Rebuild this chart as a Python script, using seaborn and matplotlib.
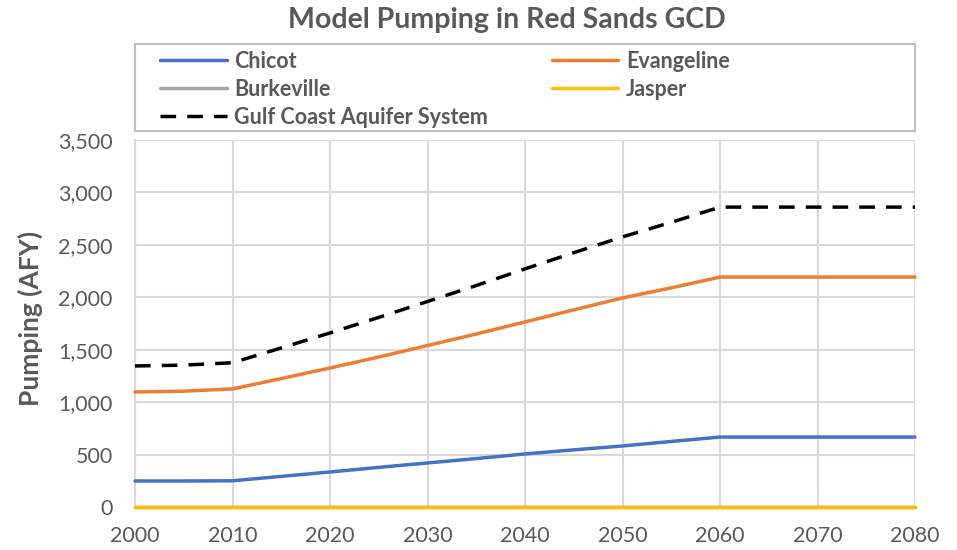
import pandas as pd
import numpy as np
import matplotlib.pyplot as plt
import seaborn as sns
from matplotlib.patches import Rectangle

# values (AFY)
years = [2000, 2005, 2010, 2015, 2020, 2025, 2030, 2035, 2040, 2045, 2050, 2055, 2060, 2070, 2080]
chicot = [248, 248, 250, 292, 334, 378, 420, 462, 506, 545, 582, 625, 667, 667, 667]
evangeline = [1097, 1105, 1126, 1225, 1326, 1430, 1540, 1650, 1765, 1880, 1994, 2090, 2193, 2193, 2193]
burkeville = [0] * len(years)
jasper = [0] * len(years)
gulf_coast = [1345, 1353, 1376, 1517, 1660, 1808, 1960, 2112, 2271, 2425, 2576, 2715, 2860, 2860, 2860]

x_ticks = [2000, 2010, 2020, 2030, 2040, 2050, 2060, 2070, 2080]
y_ticks = [0, 500, 1000, 1500, 2000, 2500, 3000, 3500]

sns.set_style("white")
plt.rcParams['font.family'] = ['Lato', 'DejaVu Sans']

txt = '#595959'
grid = '#d9d9d9'
W, H = 957, 550

fig = plt.figure(figsize=(9.57, 5.5), dpi=100)
ax = fig.add_axes([135 / W, 1 - 507 / H, 780 / W, 367 / H])

series = [
    ('Chicot', chicot, '#4472C4', '-'),
    ('Burkeville', burkeville, '#A5A5A5', '-'),
    ('Gulf Coast Aquifer System', gulf_coast, 'black', '--'),
    ('Evangeline', evangeline, '#ED7D31', '-'),
    ('Jasper', jasper, '#FFC000', '-'),
]
draw_order = [0, 3, 1, 4, 2]
lines = {}
for i in draw_order:
    name, vals, col, ls = series[i]
    df = pd.DataFrame({'year': years, 'value': vals})
    sns.lineplot(data=df, x='year', y='value', color=col, lw=2.5, ax=ax,
                 label=name, legend=False, clip_on=False, zorder=3)
    ln = ax.get_lines()[-1]
    if ls == '--':
        ln.set_dashes([4.5, 3.2])
        ln.set_dash_capstyle('butt')
    lines[name] = ln

ax.set_xlim(2000, 2080)
ax.set_ylim(0, 3500)
ax.set_xticks(x_ticks)
ax.set_yticks(y_ticks)
ax.set_yticklabels([f'{v:,}' for v in y_ticks])
ax.grid(True, color=grid, lw=1.5)
ax.set_axisbelow(True)
for s in ['top', 'right']:
    ax.spines[s].set_visible(False)
for s in ['left', 'bottom']:
    ax.spines[s].set_color(grid)
    ax.spines[s].set_linewidth(1.5)
ax.tick_params(axis='y', colors=txt, labelsize=15.5, length=0, pad=16)
ax.tick_params(axis='x', colors=txt, labelsize=15.5, length=0, pad=14)
ax.set_xlabel('')
ax.set_ylabel('')
fig.text(30 / W, 1 - 318 / H, 'Pumping (AFY)', rotation=90, ha='center', va='center',
         fontsize=19, fontweight='bold', color=txt)

fig.text(507 / W, 1 - 20 / H, 'Model Pumping in Red Sands GCD', ha='center', va='center',
         fontsize=20.5, fontweight='bold', color=txt)

# legend box spanning the plot width
fig.patches.append(Rectangle((135 / W, 1 - 131 / H), 780 / W, 87 / H, transform=fig.transFigure,
                             fill=False, edgecolor='#bfbfbf', lw=1.5))

handles = [lines[s[0]] for s in series]
labels = [s[0] for s in series]
leg = fig.legend(handles, labels, ncol=2, loc='upper left',
                 bbox_to_anchor=(160 / W, 1 - 51 / H),
                 frameon=False, fontsize=15.5,
                 handlelength=3.1, handletextpad=0.35, labelspacing=0.32,
                 columnspacing=2.95, borderpad=0, borderaxespad=0)
for t in leg.get_texts():
    t.set_color(txt)
    t.set_fontweight('bold')

plt.savefig('out.png', dpi=100)
